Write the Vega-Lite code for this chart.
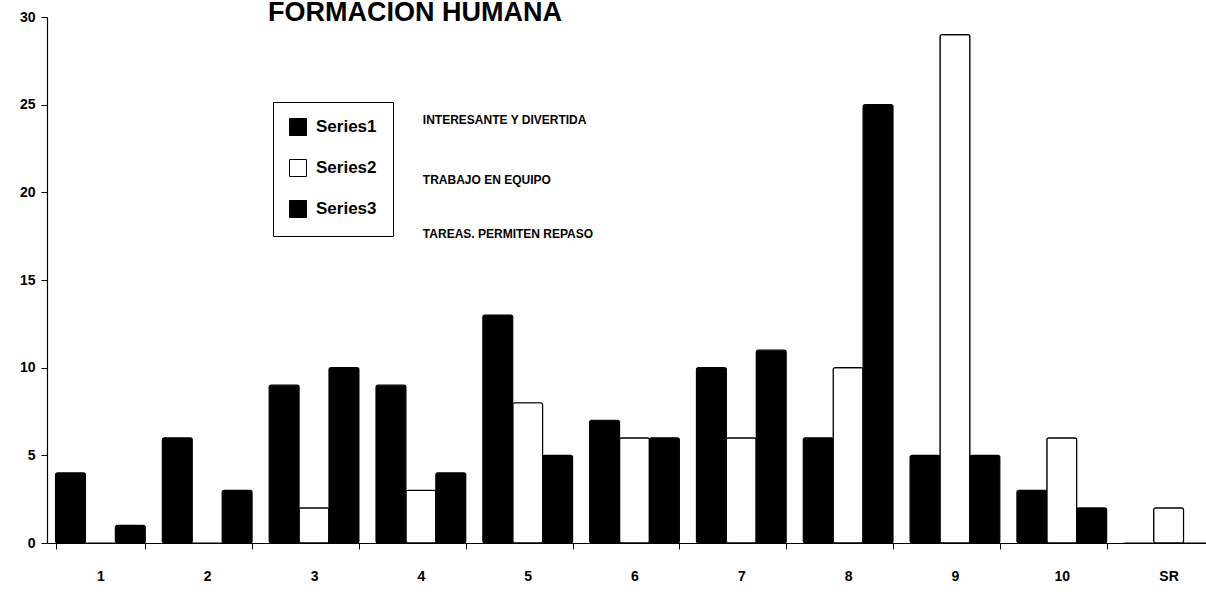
{
  "$schema": "https://vega.github.io/schema/vega-lite/v6.json",
  "width": 1159,
  "height": 526,
  "autosize": {"type": "none"},
  "padding": {"left": 47, "top": 17, "right": 0, "bottom": 56},
  "background": "white",
  "title": {
    "text": "FORMACION HUMANA",
    "anchor": "start",
    "frame": "group",
    "dx": 221,
    "offset": -17,
    "font": "Liberation Sans",
    "fontSize": 27,
    "fontWeight": "bold",
    "color": "black"
  },
  "config": {
    "view": {"stroke": null},
    "axis": {"grid": false}
  },
  "layer": [
    {
      "data": {
        "values": [
          {"category": "1", "series": "Series1", "value": 4},
          {"category": "1", "series": "Series2", "value": 0},
          {"category": "1", "series": "Series3", "value": 1},
          {"category": "2", "series": "Series1", "value": 6},
          {"category": "2", "series": "Series2", "value": 0},
          {"category": "2", "series": "Series3", "value": 3},
          {"category": "3", "series": "Series1", "value": 9},
          {"category": "3", "series": "Series2", "value": 2},
          {"category": "3", "series": "Series3", "value": 10},
          {"category": "4", "series": "Series1", "value": 9},
          {"category": "4", "series": "Series2", "value": 3},
          {"category": "4", "series": "Series3", "value": 4},
          {"category": "5", "series": "Series1", "value": 13},
          {"category": "5", "series": "Series2", "value": 8},
          {"category": "5", "series": "Series3", "value": 5},
          {"category": "6", "series": "Series1", "value": 7},
          {"category": "6", "series": "Series2", "value": 6},
          {"category": "6", "series": "Series3", "value": 6},
          {"category": "7", "series": "Series1", "value": 10},
          {"category": "7", "series": "Series2", "value": 6},
          {"category": "7", "series": "Series3", "value": 11},
          {"category": "8", "series": "Series1", "value": 6},
          {"category": "8", "series": "Series2", "value": 10},
          {"category": "8", "series": "Series3", "value": 25},
          {"category": "9", "series": "Series1", "value": 5},
          {"category": "9", "series": "Series2", "value": 29},
          {"category": "9", "series": "Series3", "value": 5},
          {"category": "10", "series": "Series1", "value": 3},
          {"category": "10", "series": "Series2", "value": 6},
          {"category": "10", "series": "Series3", "value": 2},
          {"category": "SR", "series": "Series1", "value": 0},
          {"category": "SR", "series": "Series2", "value": 2},
          {"category": "SR", "series": "Series3", "value": 0}
        ]
      },
      "mark": {"type": "bar", "stroke": "black", "strokeWidth": 1.2, "cornerRadius": 2},
      "encoding": {
        "x": {
          "field": "category",
          "type": "nominal",
          "sort": ["1", "2", "3", "4", "5", "6", "7", "8", "9", "10", "SR"],
          "scale": {"range": [0, 1175], "paddingInner": 0.16, "paddingOuter": 0.08},
          "axis": {
            "title": null,
            "labelAngle": 0,
            "labelFont": "Liberation Sans",
            "labelFontSize": 14,
            "labelFontWeight": "bold",
            "labelColor": "black",
            "labelPadding": 20,
            "tickBand": "extent",
            "tickSize": 6,
            "tickColor": "black",
            "domainColor": "black",
            "domainWidth": 1.2
          }
        },
        "xOffset": {
          "field": "series",
          "type": "nominal",
          "sort": ["Series1", "Series2", "Series3"],
          "scale": {"paddingInner": 0, "paddingOuter": 0}
        },
        "y": {
          "field": "value",
          "type": "quantitative",
          "scale": {"domain": [0, 30], "nice": false},
          "axis": {
            "title": null,
            "values": [0, 5, 10, 15, 20, 25, 30],
            "labelFont": "Liberation Sans",
            "labelFontSize": 14,
            "labelFontWeight": "bold",
            "labelColor": "black",
            "labelPadding": 6,
            "tickSize": 6,
            "tickColor": "black",
            "domainColor": "black",
            "domainWidth": 1.2
          }
        },
        "fill": {
          "field": "series",
          "type": "nominal",
          "scale": {"domain": ["Series1", "Series2", "Series3"], "range": ["#000000", "#ffffff", "#000000"]},
          "legend": {
            "title": null,
            "orient": "none",
            "legendX": 226,
            "legendY": 85,
            "direction": "vertical",
            "padding": 16,
            "strokeColor": "black",
            "fillColor": "white",
            "symbolType": "square",
            "symbolSize": 289,
            "symbolStrokeColor": "black",
            "symbolStrokeWidth": 1,
            "labelFont": "Liberation Sans",
            "labelFontSize": 17,
            "labelFontWeight": "bold",
            "labelColor": "black",
            "labelOffset": 9,
            "rowPadding": 19
          }
        }
      }
    },
    {
      "data": {
        "values": [
          {"category": "4", "value": 24.1, "label": "INTERESANTE Y DIVERTIDA"},
          {"category": "4", "value": 20.7, "label": "TRABAJO EN EQUIPO"},
          {"category": "4", "value": 17.6, "label": "TAREAS. PERMITEN REPASO"}
        ]
      },
      "mark": {"type": "text", "align": "left", "baseline": "middle", "dx": 2, "font": "Liberation Sans", "fontSize": 12, "fontWeight": "bold", "color": "black"},
      "encoding": {
        "x": {"field": "category", "type": "nominal", "sort": ["1", "2", "3", "4", "5", "6", "7", "8", "9", "10", "SR"]},
        "y": {"field": "value", "type": "quantitative"},
        "text": {"field": "label"}
      }
    }
  ]
}
